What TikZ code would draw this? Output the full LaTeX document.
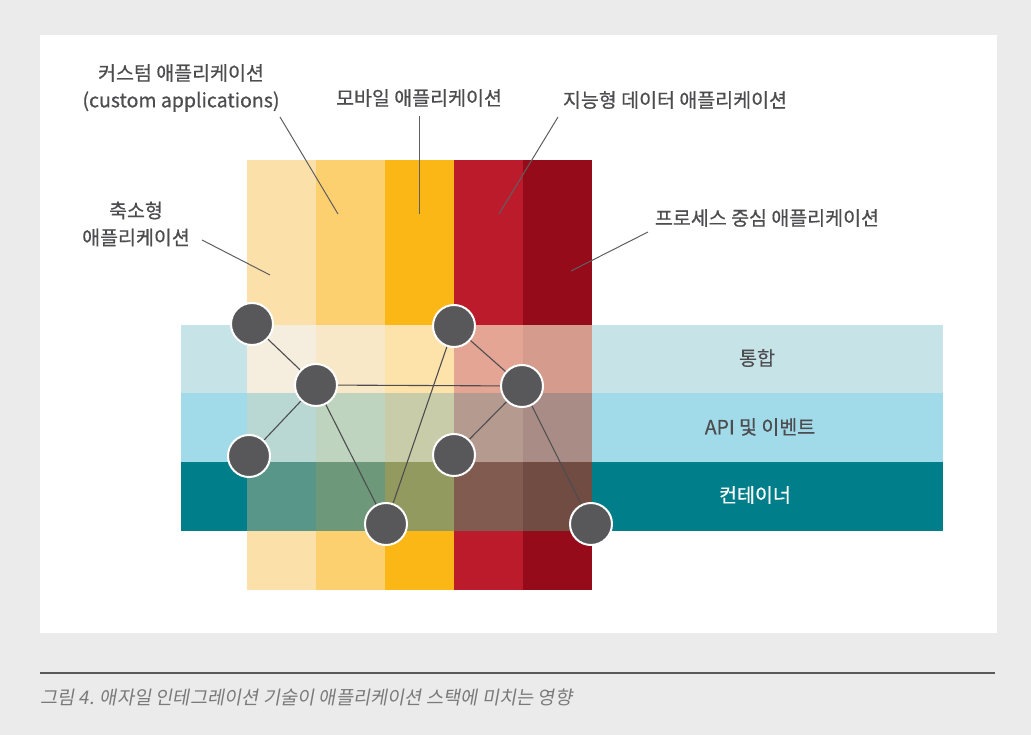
\documentclass[tikz,border=0pt]{standalone}
\usepackage{fontspec}
\setmainfont{Noto Sans CJK KR}
\newfontfamily\lblfont[FakeBold=0.6]{Noto Sans CJK KR}
\newfontfamily\capfont[FakeSlant=0.18]{Noto Sans CJK KR}
\definecolor{bgGray}{HTML}{EBEBEB}
\definecolor{txt}{HTML}{4D4D4F}
\definecolor{capc}{HTML}{7A7A7A}
\definecolor{cA}{HTML}{FCE0A9}
\definecolor{cB}{HTML}{FCD06F}
\definecolor{cC}{HTML}{FBB715}
\definecolor{cD}{HTML}{BC1B2C}
\definecolor{cE}{HTML}{950B1A}
\definecolor{bA}{HTML}{C6E3E8}
\definecolor{bB}{HTML}{A1DBEA}
\definecolor{bC}{HTML}{007E8A}
\definecolor{oAA}{HTML}{F5EEDF}
\definecolor{oAB}{HTML}{F9E8C8}
\definecolor{oAC}{HTML}{FDE2AA}
\definecolor{oAD}{HTML}{E4A595}
\definecolor{oAE}{HTML}{D59B8C}
\definecolor{oBA}{HTML}{B9D8D3}
\definecolor{oBB}{HTML}{BFD4BE}
\definecolor{oBC}{HTML}{C9CCA8}
\definecolor{oBD}{HTML}{B59A90}
\definecolor{oBE}{HTML}{A98C85}
\definecolor{oCA}{HTML}{58968A}
\definecolor{oCB}{HTML}{6D997A}
\definecolor{oCC}{HTML}{939A60}
\definecolor{oCD}{HTML}{825B50}
\definecolor{oCE}{HTML}{704C43}
\definecolor{dot}{HTML}{58585A}
\definecolor{edge}{HTML}{4D4D4F}
\pgfdeclarelayer{bg}
\pgfdeclarelayer{edges}
\pgfsetlayers{bg,edges,main}
\tikzset{
  hub/.style={circle, minimum size=42pt, inner sep=0pt, fill=dot, draw=white, line width=2pt},
  link/.style={draw=edge, line width=1.1pt},
  leader/.style={draw=txt!90, line width=1pt},
  lbl/.style={text=txt, font=\lblfont\fontsize{19.5}{27}\selectfont, align=center, inner sep=0pt},
  bandlbl/.style={text=txt, font=\lblfont\fontsize{19.5}{22}\selectfont, inner sep=0pt},
}
\begin{document}
\begin{tikzpicture}[x=1pt,y=-1pt]
\begin{pgfonlayer}{bg}
\fill[bgGray] (0,0) rectangle (1031,735);
\fill[white] (40,35) rectangle (997,633);
% columns
\fill[cA] (247,160) rectangle (316,590);
\fill[cB] (316,160) rectangle (385,590);
\fill[cC] (385,160) rectangle (454,590);
\fill[cD] (454,160) rectangle (523,590);
\fill[cE] (523,160) rectangle (592,590);
% bands
\fill[bA] (181,325) rectangle (943,393);
\fill[bB] (181,393) rectangle (943,462);
\fill[bC] (181,462) rectangle (943,531);
% overlaps
\fill[oAA] (247,325) rectangle (316,393);
\fill[oAB] (316,325) rectangle (385,393);
\fill[oAC] (385,325) rectangle (454,393);
\fill[oAD] (454,325) rectangle (523,393);
\fill[oAE] (523,325) rectangle (592,393);
\fill[oBA] (247,393) rectangle (316,462);
\fill[oBB] (316,393) rectangle (385,462);
\fill[oBC] (385,393) rectangle (454,462);
\fill[oBD] (454,393) rectangle (523,462);
\fill[oBE] (523,393) rectangle (592,462);
\fill[oCA] (247,462) rectangle (316,531);
\fill[oCB] (316,462) rectangle (385,531);
\fill[oCC] (385,462) rectangle (454,531);
\fill[oCD] (454,462) rectangle (523,531);
\fill[oCE] (523,462) rectangle (592,531);
\end{pgfonlayer}

% band labels
\node[bandlbl] (integ) at (757,358) {통합};
\node[bandlbl] (api) at (760,427) {API 및 이벤트};
\node[bandlbl, text=white] (cont) at (755,495) {컨테이너};

% top labels
\node[lbl] (custom) at (181,88) {커스텀 애플리케이션\\(custom applications)};
\node[lbl] (mobile) at (419,98) {모바일 애플리케이션};
\node[lbl] (smart) at (675,100) {지능형 데이터 애플리케이션};
\node[lbl] (micro) at (136,224) {축소형\\애플리케이션};
\node[lbl] (proc) at (767,218) {프로세스 중심 애플리케이션};

\coordinate (customEnd) at (338,214);
\coordinate (customStart) at (280,117);
\coordinate (mobileStart) at (419,116);
\coordinate (mobileEnd) at (419,214);
\coordinate (smartStart) at (558,117);
\coordinate (smartEnd) at (499,214);
\coordinate (microStart) at (202,240);
\coordinate (microEnd) at (270,275);
\coordinate (procStart) at (648,232);
\coordinate (procEnd) at (571,271);
\draw[leader] (customStart) -- (customEnd);
\draw[leader] (mobileStart) -- (mobileEnd);
\draw[leader] (smartStart) -- (smartEnd);
\draw[leader] (microStart) -- (microEnd);
\draw[leader] (procStart) -- (procEnd);

% hubs
\node[hub] (n1) at (252,324) {};
\node[hub] (n2) at (316,385) {};
\node[hub] (n3) at (454,326) {};
\node[hub] (n4) at (522,386) {};
\node[hub] (n5) at (249,456) {};
\node[hub] (n6) at (454,455) {};
\node[hub] (n7) at (386,524) {};
\node[hub] (n8) at (591,524) {};

\begin{pgfonlayer}{edges}
\draw[link] (n1.center) -- (n2.center);
\draw[link] (n2.center) -- (n4.center);
\draw[link] (n2.center) -- (n5.center);
\draw[link] (n2.center) -- (n7.center);
\draw[link] (n3.center) -- (n7.center);
\draw[link] (n3.center) -- (n4.center);
\draw[link] (n4.center) -- (n6.center);
\draw[link] (n4.center) -- (n8.center);
\end{pgfonlayer}

% caption
\coordinate (ruleL) at (40,673);
\coordinate (ruleR) at (995,673);
\draw[draw=black!65, line width=1.2pt] (ruleL) -- (ruleR);
\node[anchor=west, text=capc, font=\capfont\fontsize{18.7}{20}\selectfont, inner sep=0pt] (cap) at (40,697) {그림 4. 애자일 인테그레이션 기술이 애플리케이션 스택에 미치는 영향};
\end{tikzpicture}
\end{document}
